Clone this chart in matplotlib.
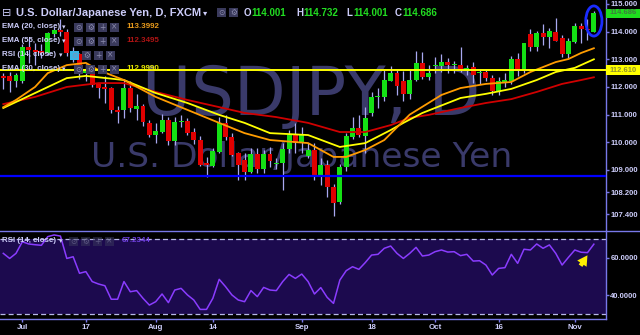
import matplotlib
matplotlib.use('Agg')
import matplotlib.pyplot as plt
from matplotlib.patches import Rectangle, Ellipse, FancyArrowPatch

# ---------------- data ----------------
opens = [112.38, 112.40, 112.23, 112.22, 113.43, 113.34, 113.30, 113.22, 113.90, 114.06,
         114.00, 113.22, 113.20, 112.49, 112.64, 112.10, 111.99, 111.95, 111.15, 111.15,
         111.95, 111.20, 111.30, 110.68, 110.27, 110.38, 110.80, 110.06, 110.72, 110.77,
         110.38, 110.08, 109.24, 109.15, 109.66, 110.68, 110.20, 109.60, 109.36, 108.94,
         109.57, 109.02, 109.57, 109.20, 109.24, 109.76, 110.26, 109.96, 109.50, 109.72,
         108.82, 109.18, 108.39, 107.85, 109.12, 110.18, 110.50, 110.23, 111.07, 111.62,
         111.65, 112.23, 112.50, 112.20, 111.75, 112.25, 112.85, 112.37, 112.74, 112.77,
         112.89, 112.78, 112.80, 112.57, 112.73, 112.50, 112.55, 112.31, 111.80, 112.18,
         112.20, 113.00, 112.58, 113.90, 113.46, 113.94, 113.79, 114.00, 113.76, 113.20,
         113.64, 114.20, 114.11, 114.001]
highs = [112.50, 112.55, 112.50, 113.55, 113.76, 113.58, 113.55, 114.00, 114.18, 114.45,
         114.08, 113.45, 113.22, 112.82, 112.70, 112.10, 112.40, 112.00, 111.31, 112.25,
         112.20, 111.73, 111.40, 110.82, 110.68, 111.02, 110.90, 110.90, 110.99, 110.87,
         110.53, 110.22, 109.48, 109.78, 110.92, 110.99, 110.35, 109.65, 109.60, 109.78,
         109.78, 109.73, 109.84, 109.43, 109.96, 110.45, 110.70, 110.56, 109.96, 109.96,
         109.42, 109.36, 108.50, 109.20, 110.35, 110.93, 111.00, 111.28, 111.83, 111.95,
         112.60, 112.75, 112.63, 112.58, 112.60, 113.31, 113.27, 112.80, 113.09, 113.20,
         113.05, 112.95, 113.44, 112.80, 112.92, 112.62, 112.62, 112.44, 112.35, 112.50,
         113.13, 113.22, 113.60, 114.10, 114.03, 114.27, 114.12, 114.48, 113.88, 113.76,
         114.30, 114.30, 114.45, 114.732]
lows = [111.92, 111.83, 112.00, 112.15, 112.85, 112.80, 113.05, 113.15, 113.80, 113.85,
        113.12, 112.90, 112.30, 112.22, 111.99, 111.59, 111.43, 111.05, 110.68, 110.86,
        111.10, 110.80, 110.59, 110.20, 109.96, 110.32, 109.90, 109.90, 110.56, 110.26,
        109.95, 109.15, 108.76, 109.10, 109.60, 110.07, 109.50, 108.63, 108.64, 108.88,
        108.90, 108.88, 109.12, 109.05, 108.27, 109.60, 109.60, 109.60, 109.42, 108.63,
        108.45, 108.03, 107.33, 107.75, 108.95, 110.10, 110.20, 109.60, 110.95, 111.23,
        111.50, 112.20, 111.71, 111.50, 111.55, 112.20, 112.28, 112.25, 112.50, 112.55,
        112.50, 112.52, 112.55, 112.45, 112.13, 112.10, 112.20, 111.72, 111.72, 112.00,
        112.10, 112.40, 112.50, 113.30, 113.30, 113.50, 113.40, 113.65, 113.10, 113.05,
        113.60, 113.60, 113.70, 114.001]
closes = [112.33, 112.23, 112.43, 113.46, 113.34, 113.28, 113.24, 113.94, 114.06, 113.97,
          113.22, 113.28, 112.55, 112.64, 112.07, 111.95, 111.93, 111.17, 111.10, 111.95,
          111.23, 111.30, 110.74, 110.26, 110.40, 110.80, 110.06, 110.72, 110.76, 110.35,
          110.08, 109.18, 109.18, 109.70, 110.68, 110.20, 109.54, 109.18, 108.94, 109.57,
          109.02, 109.57, 109.32, 109.26, 109.76, 110.26, 109.96, 110.26, 109.72, 108.82,
          109.18, 108.39, 107.79, 109.12, 110.23, 110.50, 110.26, 110.87, 111.63, 111.65,
          112.25, 112.50, 112.05, 111.75, 112.25, 112.85, 112.37, 112.50, 112.80, 112.89,
          112.80, 112.84, 112.60, 112.70, 112.45, 112.55, 112.31, 111.87, 112.22, 112.24,
          113.00, 112.60, 113.58, 113.46, 113.94, 113.79, 114.02, 113.67, 113.20, 113.66,
          114.20, 114.10, 114.06, 114.686]

ema20_idx = [0, 2, 5, 7, 10, 13, 15, 19, 24, 29, 34, 38, 42, 48, 52, 54, 57, 60, 64, 69, 72, 76, 80, 83, 87, 89, 91, 93]
ema20_val = [111.27, 111.53, 112.00, 112.50, 112.79, 112.87, 112.61, 112.25, 111.64, 111.17, 110.70, 110.33,
             110.08, 109.97, 109.47, 109.47, 109.72, 110.08, 111.00, 111.71, 111.96, 112.11, 112.18, 112.54,
             112.90, 113.01, 113.23, 113.40]
ema30_idx = [0, 5, 10, 13, 19, 24, 29, 34, 38, 42, 48, 53, 57, 61, 63, 66, 72, 76, 80, 84, 87, 90, 93]
ema30_val = [111.24, 111.78, 112.32, 112.40, 112.25, 111.78, 111.42, 110.99, 110.70, 110.33, 110.26, 109.83,
             109.97, 110.44, 110.70, 111.06, 111.60, 111.75, 111.93, 112.25, 112.54, 112.69, 113.00]
ema55_idx = [0, 5, 10, 15, 19, 24, 29, 34, 38, 43, 48, 53, 57, 61, 64, 67, 72, 76, 80, 84, 88, 91, 93]
ema55_val = [111.38, 111.64, 112.00, 112.14, 112.14, 111.82, 111.53, 111.27, 111.06, 110.91, 110.70, 110.37,
             110.37, 110.62, 110.88, 110.99, 111.24, 111.42, 111.56, 111.82, 112.11, 112.25, 112.35]

rsi = [62.3, 59.6, 62.3, 68.5, 67.3, 66.9, 66.6, 71.2, 72.1, 71.5,
       59.6, 60.5, 51.7, 52.6, 47.3, 46.0, 45.1, 37.9, 37.9, 47.3,
       41.9, 42.5, 38.4, 34.8, 36.6, 40.7, 36.1, 42.8, 43.7, 40.2,
       37.5, 32.5, 32.5, 38.4, 48.5, 44.6, 40.2, 37.5, 36.6, 42.5,
       39.3, 44.2, 42.8, 42.5, 47.3, 51.1, 49.0, 51.3, 47.3, 40.7,
       44.1, 38.9, 35.7, 48.1, 53.1, 55.2, 53.8, 57.4, 61.4, 61.8,
       65.0, 66.2, 62.3, 59.6, 62.3, 65.5, 60.9, 61.4, 63.2, 64.1,
       63.0, 63.2, 61.1, 61.8, 58.2, 58.4, 56.1, 50.8, 54.3, 54.7,
       61.8, 57.0, 64.5, 64.1, 67.3, 65.0, 66.8, 62.3, 56.1, 60.2,
       64.1, 62.9, 62.7, 67.2]

date_tick_idx = [3, 13, 24, 33, 47, 58, 68, 78, 90]
date_tick_labels = ['Jul', '17', 'Aug', '14', 'Sep', '18', 'Oct', '16', 'Nov']
price_ticks = [115, 114, 113, 112, 111, 110, 109, 108.2, 107.4]
rsi_ticks = [60, 40]
support_level = 112.61
blue_level = 108.78

# ---------------- style ----------------
UI = 'Liberation Sans'
BG = '#000000'
LAV = '#cdcdfa'
AXC = '#7878e8'
GREEN = '#14e014'
RED = '#e00000'
WICK = '#a8a8f0'
WM = '#3a3a6a'

W, H = 640, 335
fig = plt.figure(figsize=(6.4, 3.35), dpi=100, facecolor=BG)
renderer = fig.canvas.get_renderer()


def fit_size(s, target_w, family=UI, weight='bold', base=10.0):
    t = fig.text(0, 0, s, fontsize=base, family=family, fontweight=weight)
    w = t.get_window_extent(renderer).width
    t.remove()
    return base * target_w / w


def fx(px):
    return px / W


def fy(py):
    return 1 - py / H


x_left = -3.3 / 6.35
x_right = (606 - 3.3) / 6.35

tick_fs = fit_size('114.000', 27.5)
date_fs = fit_size('Aug', 15.5)

# price panel
axp = fig.add_axes([0, fy(230), fx(606), 230 / H])
axp.set_facecolor(BG)
axp.set_xlim(x_left, x_right)
axp.set_ylim(115 - 226 / 27.65, 115 + 4 / 27.65)

wm1 = fit_size('USDJPY, D', 337, family='DejaVu Sans', weight='normal')
wm2 = fit_size('U.S. Dollar/Japanese Yen', 420, family='DejaVu Sans', weight='normal')
axp.text(fx(311), fy(115), 'USDJPY, D', transform=fig.transFigure, ha='center', va='baseline',
         fontsize=wm1, color=WM, family='DejaVu Sans', zorder=0)
axp.text(fx(302), fy(167), 'U.S. Dollar/Japanese Yen', transform=fig.transFigure, ha='center',
         va='baseline', fontsize=wm2, color=WM, family='DejaVu Sans', zorder=0)

idx = list(range(len(opens)))
axp.vlines(idx, lows, highs, color=WICK, lw=0.9, zorder=2)
bottoms = [min(o, c) for o, c in zip(opens, closes)]
heights = [max(abs(c - o), 0.045) for o, c in zip(opens, closes)]
cols = [GREEN if c >= o else RED for o, c in zip(opens, closes)]
axp.bar(idx, heights, bottom=bottoms, width=0.78, color=cols, linewidth=0, zorder=3)

axp.plot(ema55_idx, ema55_val, color='#d00000', lw=1.3, zorder=4)
axp.plot(ema30_idx, ema30_val, color='#ffff00', lw=1.3, zorder=4)
axp.plot(ema20_idx, ema20_val, color='#ff9c00', lw=1.3, zorder=4)

axp.axhline(support_level, color='#ffff00', lw=1.4, zorder=4.5)
axp.axhline(blue_level, color='#0000ff', lw=1.6, zorder=4.5)

axp.add_patch(Ellipse((93, 114.385), width=2.55, height=1.09, fill=False, ec='#1a2cff', lw=2.0, zorder=6))

for s in ['left', 'top', 'bottom']:
    axp.spines[s].set_visible(False)
axp.spines['right'].set_color(AXC)
axp.spines['right'].set_linewidth(1)
axp.set_xticks([])
axp.yaxis.tick_right()
axp.set_yticks(price_ticks)
axp.set_yticklabels(['%.3f' % v for v in price_ticks])
axp.tick_params(axis='y', colors=AXC, labelcolor=LAV, length=2.3, width=1, pad=0.8, labelsize=tick_fs)
for t in axp.get_yticklabels():
    t.set_family(UI)
    t.set_fontweight('bold')

# RSI panel
axr = fig.add_axes([0, fy(319), fx(606), 88 / H])
axr.set_facecolor(BG)
axr.set_xlim(x_left, x_right)
axr.set_ylim(60 - (319 - 257.7) / 1.88, 60 + (257.7 - 231) / 1.88)
axr.axhspan(30, 70, color='#1c0a4e', zorder=0, lw=0)
axr.axhline(70, color='#b8b8e8', lw=0.9, ls=(0, (4, 2.5)), zorder=1)
axr.axhline(30, color='#b8b8e8', lw=0.9, ls=(0, (4, 2.5)), zorder=1)
axr.plot(idx, rsi, color='#8a3cff', lw=1.1, zorder=3)
for s in ['left', 'top']:
    axr.spines[s].set_visible(False)
for s in ['right', 'bottom']:
    axr.spines[s].set_color(AXC)
    axr.spines[s].set_linewidth(1)
axr.yaxis.tick_right()
axr.set_yticks(rsi_ticks)
axr.set_yticklabels(['%.4f' % v for v in rsi_ticks])
axr.set_xticks(date_tick_idx)
axr.set_xticklabels(date_tick_labels)
axr.tick_params(axis='y', colors=AXC, labelcolor=LAV, length=2.3, width=1, pad=0.8, labelsize=tick_fs)
axr.tick_params(axis='x', colors=AXC, labelcolor=LAV, length=2.3, width=1, pad=1.2, labelsize=date_fs)
for t in axr.get_yticklabels() + axr.get_xticklabels():
    t.set_family(UI)
    t.set_fontweight('bold')

# overlay
ov = fig.add_axes([0, 0, 1, 1], zorder=10)
ov.set_xlim(0, W)
ov.set_ylim(H, 0)
ov.axis('off')
ov.patch.set_alpha(0)

ov.plot([0, W], [231, 231], color=AXC, lw=1)


def txt(x, y, s, color=LAV, size=8.0, bold=True, fam=UI, **kw):
    ov.text(x, y, s, color=color, fontsize=size, va='center', ha='left',
            family=fam, fontweight='bold' if bold else 'normal', **kw)


def icons(xs, yc, first_cyan=False, alpha=1.0):
    syms = ['\u2299', '\u2699', '+', '\u00d7']
    for j, x0 in enumerate(xs):
        fc = '#38b4e4' if (first_cyan and j == 0) else '#3a3a5c'
        ov.add_patch(Rectangle((x0, yc - 4.5), 9, 9, fc=fc, ec='none', alpha=alpha))
        ov.text(x0 + 4.5, yc, syms[j], color='#8c8cae', fontsize=5.5, ha='center', va='center',
                family='DejaVu Sans', alpha=alpha)


GR = '#22dd22'
title_fs = fit_size('U.S. Dollar/Japanese Yen, D, FXCM', 184)
val_fs = fit_size('114.001', 35)
lab_fs = fit_size('EMA (20, close)', 58)
num_fs = fit_size('113.3992', 33)

txt(2, 12.5, '\u229f', size=8, bold=False, fam='DejaVu Sans')
txt(16, 12.5, 'U.S. Dollar/Japanese Yen, D, FXCM', size=title_fs)
txt(203, 12.5, '\u25be', size=6, bold=False, fam='DejaVu Sans')
icons([217, 229], 12.5)
for lx, lab, val in [(244, 'O', '114.001'), (296, 'H', '114.732'), (346, 'L', '114.001'), (395, 'C', '114.686')]:
    txt(lx, 12.5, lab, size=val_fs)
    txt(lx + 7.5, 12.5, val, color=GR, size=val_fs)

rows = [(27, 'EMA (20, close)', '113.3992', '#e89a1c', 62, [74, 86, 98, 110], False),
        (41, 'EMA (55, close)', '112.3495', '#b01414', 62, [74, 86, 98, 110], False),
        (55, 'RSI (14, close)', None, None, 58.5, [70, 82, 94, 106], True),
        (69, 'EMA (30, close)', '112.9990', '#e6e600', 62, [74, 86, 98, 110], False)]
for yc, lab, val, vc, ax_, xs, cy in rows:
    txt(2, yc, lab, size=lab_fs)
    txt(ax_, yc, '\u25be', size=5, bold=False, fam='DejaVu Sans')
    icons(xs, yc, first_cyan=cy)
    if val:
        txt(126, yc, val, color=vc, size=num_fs)

txt(2, 241, 'RSI (14, close)', size=lab_fs)
txt(58.5, 241, '\u25be', size=5, bold=False, fam='DejaVu Sans')
icons([69, 81, 93, 105], 241, alpha=0.5)
txt(122, 241, '67.2344', color='#7040e0', size=num_fs)

# price tags on axis
ov.add_patch(Rectangle((606, 8.5), 34, 9, fc='#1ee01e', ec='none'))
txt(610, 13, '114.686', color='#3f7a3f', size=tick_fs, zorder=12)
ov.add_patch(Rectangle((606, 65), 34, 10, fc='#ffff00', ec='none'))
txt(610, 70, '112.610', color='#8f8f30', size=tick_fs, zorder=12)

# yellow arrow in RSI
ov.add_patch(FancyArrowPatch((579, 268), (589, 253),
                             arrowstyle='simple,head_width=0.9,head_length=0.8,tail_width=0.35',
                             mutation_scale=9, color='#ffee00', lw=0))

fig.savefig('out.png', dpi=100, facecolor=BG)
